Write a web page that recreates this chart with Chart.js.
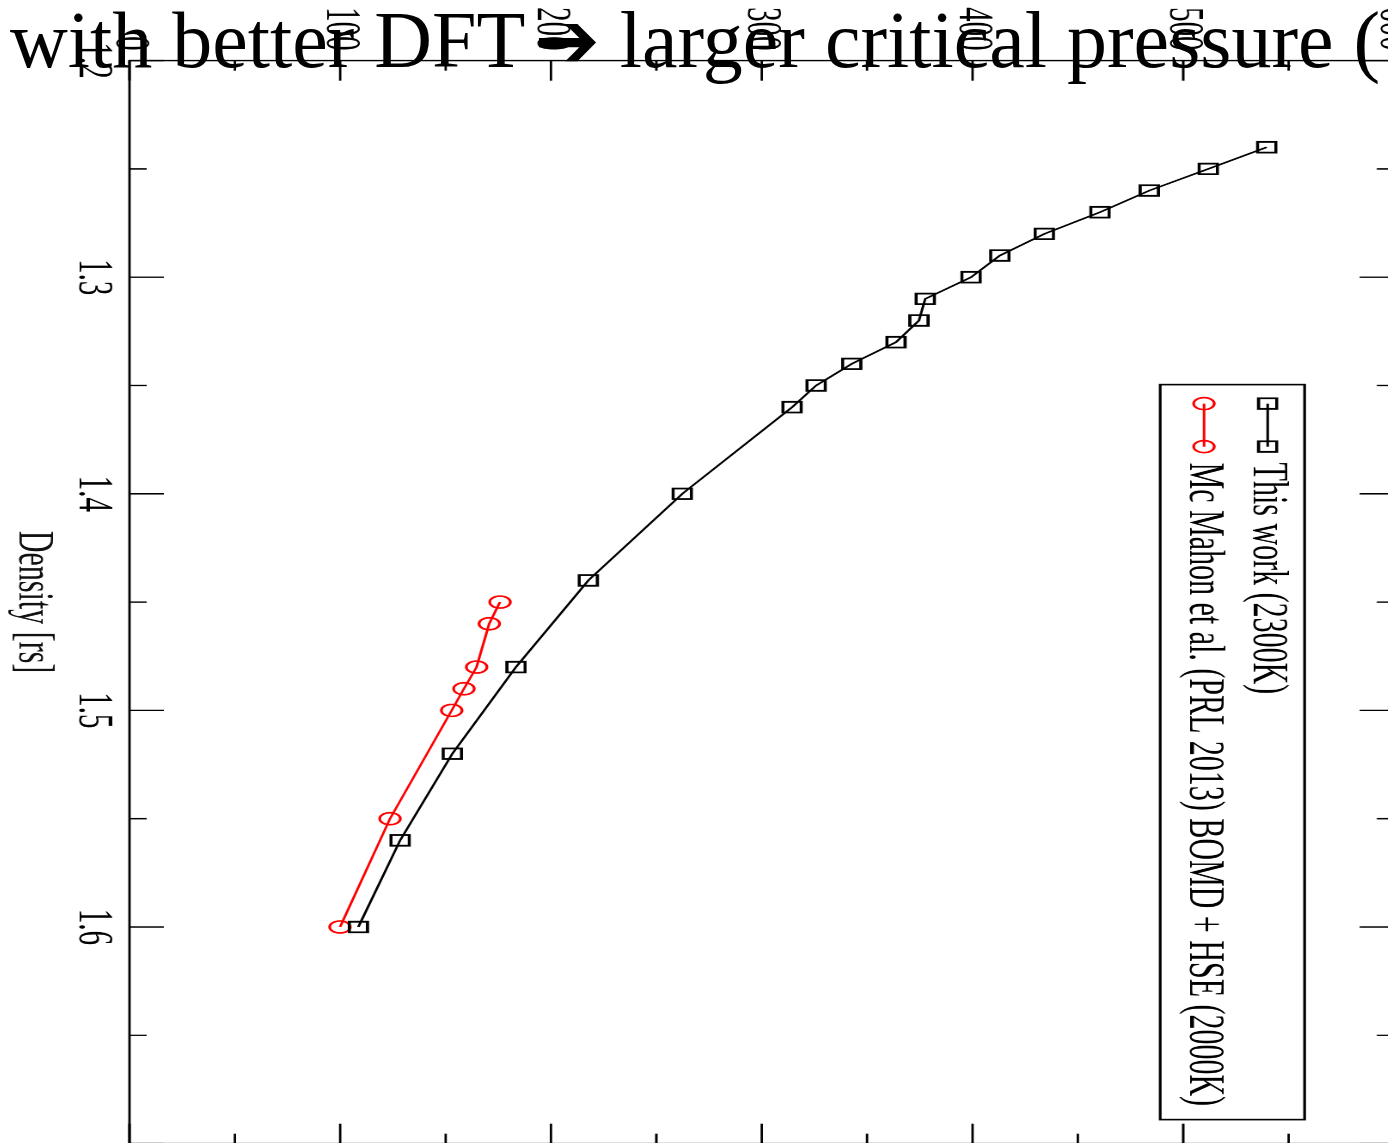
<!DOCTYPE html>
<html>
<head>
<meta charset="utf-8">
<script src="https://cdn.jsdelivr.net/npm/chart.js@4.4.1/dist/chart.umd.min.js"></script>
<style>
  html, body { margin: 0; padding: 0; background: #fff; }
  body { width: 1388px; height: 1143px; overflow: hidden; position: relative; }
  #densityChart { position: absolute; left: 0; top: 0; transform-origin: 0 0; }
  #headline {
    position: absolute; left: 10px; top: 0; z-index: 2;
    font: 80px/80px "Liberation Serif", "Times New Roman", serif;
    white-space: nowrap; color: #000;
  }
  #headline .arrow { font-family: "DejaVu Sans", sans-serif; font-size: 78px; margin-left: 9px; }
</style>
</head>
<body>
<canvas id="densityChart" width="1223" height="840"></canvas>
<div id="headline">with better DFT<span class="arrow">➔</span> larger critical pressure (</div>
<script>
// density rs and pressure (GPa) along each run
const thisWorkDensity = [1.24, 1.25, 1.26, 1.27, 1.28, 1.29, 1.30, 1.31, 1.32, 1.33, 1.34, 1.35, 1.36, 1.40, 1.44, 1.48, 1.52, 1.56, 1.60];
const thisWorkPressure = [539.6, 511.9, 483.9, 460.5, 434.1, 413.0, 399.3, 377.6, 374.6, 363.7, 342.7, 325.8, 314.4, 262.3, 217.7, 183.4, 153.2, 128.4, 108.6];
const mcMahonDensity = [1.45, 1.46, 1.48, 1.49, 1.50, 1.55, 1.60];
const mcMahonPressure = [175.8, 170.7, 164.7, 158.7, 152.9, 123.6, 99.9];

const seriesLabels = ["This work (2300K)", "Mc Mahon et al. (PRL 2013) BOMD + HSE (2000K)"];

const densityMajor = [1.2, 1.3, 1.4, 1.5, 1.6, 1.7];
const densityMinor = [1.25, 1.35, 1.45, 1.55, 1.65];
const densityLabels = [1.2, 1.3, 1.4, 1.5, 1.6];
const pressureMajor = [0, 100, 200, 300, 400, 500, 600];
const pressureMinor = [50, 150, 250, 350, 450, 550];

const serif = "'Liberation Serif', 'Times New Roman', serif";

function toPoints(xs, ys) {
    return xs.map((x, i) => ({ x: x, y: ys[i] }));
}

// closed box with inward ticks on every side
const framePlugin = {
    id: "frame",
    afterDatasetsDraw(chart) {
        const { ctx, chartArea: area, scales } = chart;
        ctx.save();
        ctx.strokeStyle = "#000";
        ctx.lineWidth = 1.4;
        ctx.strokeRect(area.left, area.top, area.width, area.height);
        ctx.beginPath();
        const densityTicks = (vals, len) => vals.forEach(v => {
            const px = scales.x.getPixelForValue(v);
            ctx.moveTo(px, area.bottom); ctx.lineTo(px, area.bottom - len);
            ctx.moveTo(px, area.top); ctx.lineTo(px, area.top + len);
        });
        const pressureTicks = (vals, len) => vals.forEach(p => {
            const py = scales.y.getPixelForValue(p);
            ctx.moveTo(area.left, py); ctx.lineTo(area.left + len, py);
            ctx.moveTo(area.right, py); ctx.lineTo(area.right - len, py);
        });
        densityTicks(densityMajor, 20);
        densityTicks(densityMinor, 10);
        pressureTicks(pressureMajor, 20);
        pressureTicks(pressureMinor, 10);
        ctx.stroke();
        ctx.restore();
    }
};

// legend box: a short line with a marker at both ends, then the label
const boxLegend = {
    id: "boxLegend",
    afterDraw(chart) {
        const { ctx, chartArea: area } = chart;
        const left = area.left + 324, right = area.left + 1059;
        const top = area.top + 52, bottom = area.top + 136;
        ctx.save();
        ctx.fillStyle = "#fff";
        ctx.fillRect(left, top, right - left, bottom - top);
        ctx.strokeStyle = "#000";
        ctx.lineWidth = 1.6;
        ctx.strokeRect(left, top, right - left, bottom - top);
        chart.data.datasets.forEach((ds, i) => {
            const rowY = area.top + 73.5 + i * 37;
            const x1 = area.left + 343, x2 = area.left + 386;
            ctx.strokeStyle = ds.borderColor;
            ctx.lineWidth = ds.borderWidth;
            ctx.beginPath();
            ctx.moveTo(x1, rowY);
            ctx.lineTo(x2, rowY);
            ctx.stroke();
            ctx.fillStyle = "rgba(0,0,0,0)";
            ctx.lineWidth = ds.pointBorderWidth;
            [x1, x2].forEach(px => Chart.helpers.drawPoint(ctx, {
                pointStyle: ds.pointStyle, radius: ds.pointRadius, borderWidth: ds.pointBorderWidth, rotation: 0
            }, px, rowY));
            ctx.fillStyle = "#000";
            ctx.font = "30px " + serif;
            ctx.textBaseline = "middle";
            ctx.textAlign = "left";
            ctx.fillText(ds.label, area.left + 402, rowY);
        });
        ctx.restore();
    }
};

const canvas = document.getElementById("densityChart");

const chart = new Chart(canvas.getContext("2d"), {
    type: "scatter",
    data: {
        datasets: [{
            label: seriesLabels[0],
            data: toPoints(thisWorkDensity, thisWorkPressure),
            showLine: true,
            borderColor: "#000",
            borderWidth: 1.5,
            pointStyle: "rect",
            pointRadius: 7.5,
            pointBorderColor: "#000",
            pointBackgroundColor: "rgba(0,0,0,0)",
            pointBorderWidth: 1.8
        }, {
            label: seriesLabels[1],
            data: toPoints(mcMahonDensity, mcMahonPressure),
            showLine: true,
            borderColor: "#ff0000",
            borderWidth: 1.5,
            pointStyle: "circle",
            pointRadius: 6,
            pointBorderColor: "#ff0000",
            pointBackgroundColor: "rgba(0,0,0,0)",
            pointBorderWidth: 1.6
        }]
    },
    options: {
        responsive: false,
        animation: false,
        devicePixelRatio: 2,
        layout: { padding: { top: 20, right: 20, left: 0, bottom: 0 } },
        scales: {
            x: {
                type: "linear",
                min: 1.2,
                max: 1.7,
                afterFit: scale => { scale.height = 77; },
                afterBuildTicks: scale => { scale.ticks = densityLabels.map(v => ({ value: v })); },
                grid: { display: false, drawTicks: false },
                border: { display: false },
                ticks: {
                    padding: 4,
                    color: "#000",
                    font: { family: serif, size: 29 },
                    callback: v => v.toFixed(1)
                },
                title: {
                    display: true,
                    text: "Density [rs]",
                    color: "#111",
                    font: { family: serif, size: 30 },
                    padding: { top: 0, bottom: 3 }
                }
            },
            y: {
                type: "linear",
                min: 0,
                max: 600,
                afterFit: scale => { scale.width = 120; },
                afterBuildTicks: scale => { scale.ticks = pressureMajor.map(v => ({ value: v })); },
                grid: { display: false, drawTicks: false },
                border: { display: false },
                ticks: {
                    padding: 10,
                    color: "#000",
                    font: { family: serif, size: 29 },
                    callback: v => String(v)
                }
            }
        },
        plugins: {
            legend: { display: false },
            tooltip: { enabled: false }
        }
    },
    plugins: [framePlugin, boxLegend]
});

// turn the drawn chart a quarter turn clockwise and stretch it onto the page
function placeCanvas(c) {
    const area = c.chartArea;
    const sy = (1143.6 - 60.6) / area.width;
    const k = (1394 - 129.5) / area.height;
    const tx = 129.5 + k * area.bottom;
    const ty = 60.6 - sy * area.left;
    canvas.style.transform = `translate(${tx}px, ${ty}px) rotate(90deg) scale(${sy}, ${k})`;
}
placeCanvas(chart);
</script>
</body>
</html>
